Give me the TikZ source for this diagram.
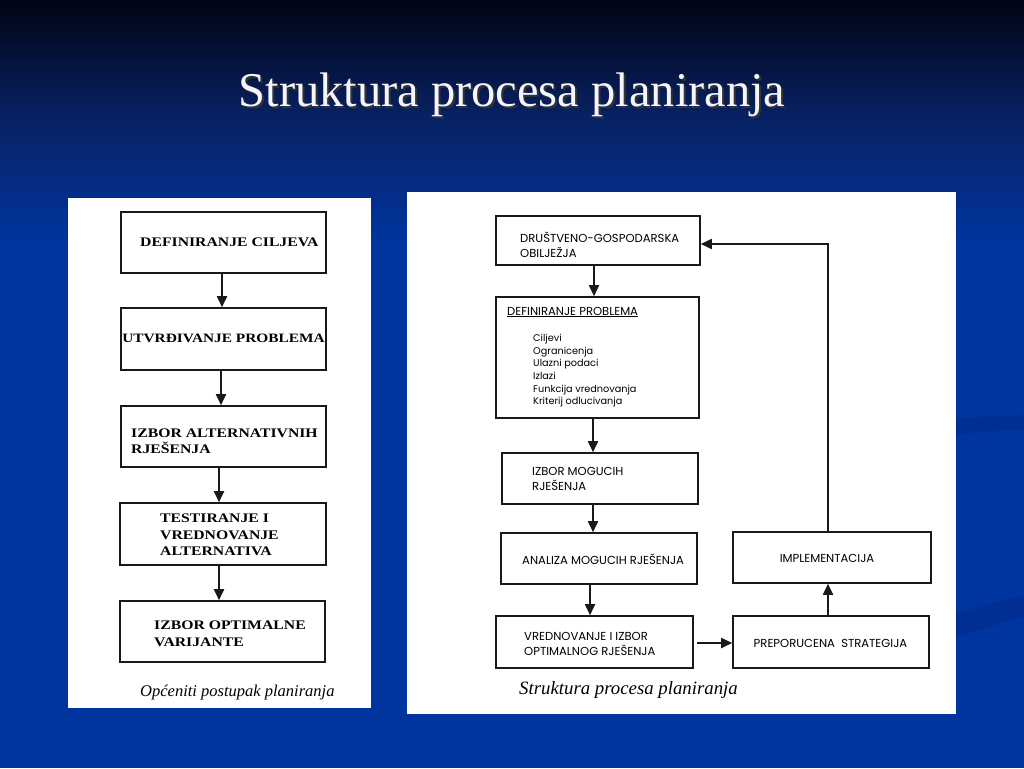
\documentclass[tikz,border=0pt]{standalone}
\usepackage{fontspec}
\setmainfont{Liberation Serif}
\newfontfamily\gothic{Poppins}
\newfontfamily\boxserif[FakeStretch=1.2]{Liberation Serif}
\usetikzlibrary{arrows.meta}

\definecolor{slideTop}{RGB}{1,4,20}
\definecolor{slideMid}{RGB}{8,34,100}
\definecolor{slideBlue}{RGB}{0,52,158}
\definecolor{swooshBlue}{RGB}{0,46,146}

\begin{document}
\begin{tikzpicture}
[x=1pt,y=-1pt,
  boxDecorate/.style={shape=rectangle,draw=black!90,line width=1.6pt,fill=white,inner sep=0pt},%
  arrowDecorate/.style={-{Triangle[length=11pt,width=10pt]},line width=1.8pt,draw=black!90},%
  leftText/.style={align=left,inner sep=0pt,font=\boxserif\bfseries\fontsize{13.1}{16.5}\selectfont},%
  rightText/.style={align=left,inner sep=0pt,font=\gothic\fontsize{11.6}{15}\selectfont},%
  captionText/.style={inner sep=0pt,font=\itshape}]
\useasboundingbox (0,0) rectangle (1024,768);
%% slide background
\shade[top color=slideTop,bottom color=slideBlue,middle color=slideMid] (0,0) rectangle (1024,240);
\fill[slideBlue] (0,239) rectangle (1024,768);
\fill[swooshBlue] (956,418) .. controls (990,416) .. (1024,415) -- (1024,429) .. controls (990,431) .. (956,434) -- cycle;
\fill[swooshBlue] (956,614) .. controls (990,604) .. (1024,596) -- (1024,617) .. controls (990,626) .. (956,638) -- cycle;
%% title
\node[text=black!80,font=\fontsize{48.5}{50}\selectfont] (titleShadow) at (514,97) {Struktura procesa planiranja};
\node[text=blue!4,font=\fontsize{48.5}{50}\selectfont] (title) at (512,95) {Struktura procesa planiranja};
%% panels
\fill[white] (68,198) rectangle (371,708);
\fill[white] (407,192) rectangle (956,714);
%% boxes
\foreach \nodename/\x/\y/\w/\h in {
  c1/223.5/242.5/205/61, c2/223.5/339/205/62, c3/223.5/436.5/205/61,
  c4/223/534/206/62, c5/222.5/631.5/205/61,
  r1/598/240.5/204/49, r2/597.5/357.5/203/121, r3/600/478.5/196/51,
  r4/599/558.5/196/51, r5/594.5/642/197/52, r6/831/642/196/52, r7/832/557.5/198/51}
{
  \node (\nodename) at (\x,\y) [boxDecorate,minimum width=\w,minimum height=\h] {};
}
%% texts, left panel
\node[leftText,anchor=west] (c1text) at (140,242) {DEFINIRANJE CILJEVA};
\node[leftText,font=\boxserif\bfseries\fontsize{12.8}{16.5}\selectfont] (c2text) at (223.5,338) {UTVRĐIVANJE PROBLEMA};
\node[leftText,anchor=west] (c3text) at (131,441) {IZBOR ALTERNATIVNIH\\RJEŠENJA};
\node[leftText,anchor=west] (c4text) at (160,535) {TESTIRANJE I\\VREDNOVANJE\\ALTERNATIVA};
\node[leftText,anchor=west] (c5text) at (154,634) {IZBOR OPTIMALNE\\VARIJANTE};
\node[captionText,font=\itshape\fontsize{16.5}{18}\selectfont,anchor=west] (c5caption) at (140,693) {Općeniti postupak planiranja};
%% texts, right panel
\node[rightText,anchor=west] (r1text) at (520,245) {DRUŠTVENO-GOSPODARSKA\\OBILJEŽJA};
\node[rightText,anchor=west,font=\gothic\fontsize{9.7}{12.6}\selectfont] (r2text) at (507,357)
  {{\fontsize{11.6}{12.6}\selectfont\underline{DEFINIRANJE PROBLEMA}}\\[14pt]
   \hspace*{26pt}Ciljevi\\ \hspace*{26pt}Ogranicenja\\ \hspace*{26pt}Ulazni podaci\\
   \hspace*{26pt}Izlazi\\ \hspace*{26pt}Funkcija vrednovanja\\ \hspace*{26pt}Kriterij odlucivanja};
\node[rightText,anchor=west] (r3text) at (532,479) {IZBOR MOGUCIH\\RJEŠENJA};
\node[rightText,anchor=west] (r4text) at (522,559) {ANALIZA MOGUCIH RJEŠENJA};
\node[rightText,anchor=west] (r5text) at (524,644) {VREDNOVANJE I IZBOR\\OPTIMALNOG RJEŠENJA};
\node[rightText] (r6text) at (830.5,643) {PREPORUCENA\ \ STRATEGIJA};
\node[rightText] (r7text) at (827,558) {IMPLEMENTACIJA};
\node[captionText,font=\itshape\fontsize{18.8}{20}\selectfont,anchor=west] (r5caption) at (519,690) {Struktura procesa planiranja};
%% edges or lines
\foreach \startnode/\endnode/\ax in {c1/c2/222, c2/c3/221, c3/c4/219, c4/c5/219,
  r1/r2/594, r2/r3/593, r3/r4/593, r4/r5/590}
{
  \draw[arrowDecorate] (\ax,0 |- \startnode.south) -- (\ax,0 |- \endnode.north);
};
\coordinate (r5out) at (697,643);
\draw[arrowDecorate] (r5out) -- (r5out -| r6.west);
\draw[arrowDecorate] (828,0 |- r6.north) -- (828,0 |- r7.south);
\draw[arrowDecorate] (828,0 |- r7.north) |- (r1.east |- 0,244);
\end{tikzpicture}
\end{document}
